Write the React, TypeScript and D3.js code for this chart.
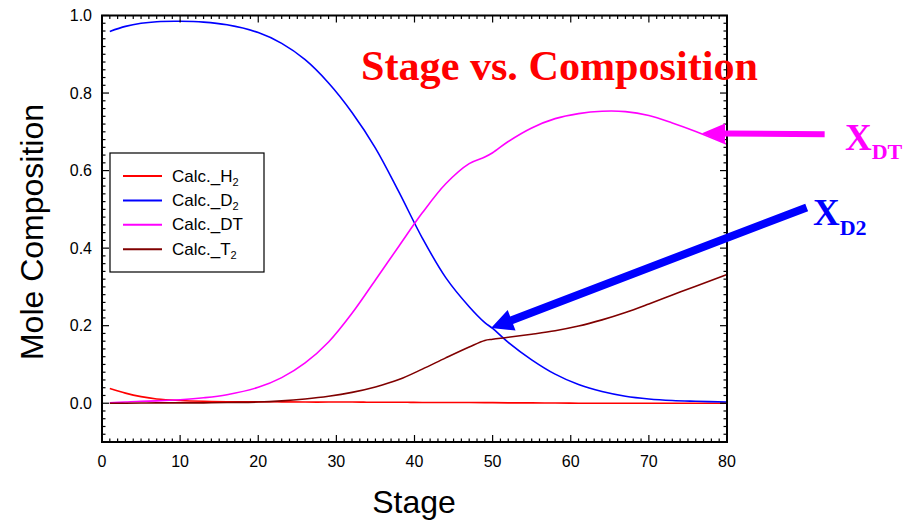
import * as d3 from "d3";

const stages = [1, 3, 5, 7, 10, 13, 16, 20, 23, 26, 29, 32, 35, 38, 41, 44, 47, 49, 50, 52, 55, 58, 61, 64, 67, 70, 73, 76, 80];

const h2 = [0.038, 0.026, 0.017, 0.011, 0.007, 0.005, 0.004, 0.004, 0.0035, 0.003, 0.003, 0.003, 0.0025, 0.0025, 0.002, 0.002, 0.002, 0.0015, 0.0015, 0.001, 0.001, 0.0005, 0, 0, 0, 0, 0, 0, 0];
const d2 = [0.959, 0.972, 0.98, 0.984, 0.985, 0.983, 0.976, 0.956, 0.928, 0.886, 0.826, 0.75, 0.658, 0.545, 0.426, 0.324, 0.249, 0.208, 0.193, 0.157, 0.112, 0.075, 0.048, 0.03, 0.018, 0.011, 0.007, 0.005, 0.003];
const dt = [0.001, 0.003, 0.005, 0.006, 0.009, 0.014, 0.022, 0.041, 0.066, 0.104, 0.158, 0.232, 0.318, 0.405, 0.491, 0.566, 0.618, 0.635, 0.646, 0.675, 0.71, 0.734, 0.747, 0.753, 0.752, 0.742, 0.723, 0.701, 0.668];
const t2 = [0, 0, 0.0005, 0.001, 0.001, 0.001, 0.002, 0.003, 0.006, 0.011, 0.018, 0.028, 0.042, 0.061, 0.088, 0.117, 0.145, 0.162, 0.165, 0.17, 0.178, 0.187, 0.199, 0.215, 0.234, 0.256, 0.279, 0.302, 0.332];

const seriesNames = ["H", "D", "DT", "T"];
const seriesSubs = ["2", "2", "", "2"];
const seriesColors = ["#ff0000", "#0000ff", "#ff00ff", "#800000"];
const seriesValues = [h2, d2, dt, t2];

const xTicks = [0, 10, 20, 30, 40, 50, 60, 70, 80];
const yTicks = [0, 0.2, 0.4, 0.6, 0.8, 1.0];

const W = 920;
const H = 521;
const sans = "'Liberation Sans', Arial, sans-serif";
const serif = "'Liberation Serif', 'Times New Roman', serif";

function arrowPath(x1: number, y1: number, x2: number, y2: number, w: number, hl: number, hw: number) {
  // tail (x1,y1) -> tip (x2,y2)
  const dx = x2 - x1, dy = y2 - y1;
  const len = Math.hypot(dx, dy);
  const ux = dx / len, uy = dy / len;
  const px = -uy, py = ux;
  const bx = x2 - ux * hl, by = y2 - uy * hl;
  const pts = [
    [x1 + px * w / 2, y1 + py * w / 2],
    [bx + px * w / 2, by + py * w / 2],
    [bx + px * hw, by + py * hw],
    [x2, y2],
    [bx - px * hw, by - py * hw],
    [bx - px * w / 2, by - py * w / 2],
    [x1 - px * w / 2, y1 - py * w / 2],
  ];
  return "M" + pts.map((p) => p.join(",")).join("L") + "Z";
}

export default function App() {
  const left = 102, right = 727, top = 15.5, bottom = 442;
  const x = d3.scaleLinear().domain([0, 80]).range([left, right]);
  const y = d3.scaleLinear().domain([-0.1, 1.0]).range([bottom, top]);

  const line = d3
    .line<[number, number]>()
    .x((d) => x(d[0]))
    .y((d) => y(d[1]))
    .curve(d3.curveCatmullRom.alpha(0.5));

  const xMinor = d3.range(0, 81, 1);
  const yMinor = d3.range(-0.1, 1.0001, 0.02);

  const magArrow = arrowPath(x(92.5), y(0.694), x(76.8), y(0.696), 6, 23, 10);
  const blueArrow = arrowPath(x(90.2), y(0.505), x(49.8), y(0.194), 8, 22, 11);

  return (
    <svg width={W} height={H} style={{ position: "absolute", left: 0, top: 0, background: "#fff" }}>
      {/* data lines */}
      {seriesValues.map((vals, i) => (
        <path
          key={i}
          d={line(stages.map((s, j) => [s, vals[j]] as [number, number])) || ""}
          fill="none"
          stroke={seriesColors[i]}
          strokeWidth={1.6}
        />
      ))}

      {/* frame */}
      <rect x={left} y={top} width={right - left} height={bottom - top} fill="none" stroke="#000" strokeWidth={2} />

      {/* x ticks */}
      {xMinor.map((t) => {
        const major = t % 10 === 0;
        const l = major ? 7 : 3.5;
        return (
          <g key={"x" + t} stroke="#000" strokeWidth={1.2}>
            <line x1={x(t)} x2={x(t)} y1={bottom} y2={bottom - l} />
            <line x1={x(t)} x2={x(t)} y1={top} y2={top + l} />
          </g>
        );
      })}
      {xTicks.map((t) => (
        <text key={"xl" + t} x={x(t)} y={bottom + 25} textAnchor="middle" fontFamily={sans} fontSize={16} fill="#000">
          {t}
        </text>
      ))}

      {/* y ticks */}
      {yMinor.map((t, i) => {
        const major = yTicks.some((m) => Math.abs(m - t) < 1e-6);
        const l = major ? 7 : 3.5;
        return (
          <g key={"y" + i} stroke="#000" strokeWidth={1.2}>
            <line x1={left} x2={left + l} y1={y(t)} y2={y(t)} />
            <line x1={right} x2={right - l} y1={y(t)} y2={y(t)} />
          </g>
        );
      })}
      {yTicks.map((t) => (
        <text key={"yl" + t} x={left - 10} y={y(t)} dy="0.36em" textAnchor="end" fontFamily={sans} fontSize={16} fill="#000">
          {t.toFixed(1)}
        </text>
      ))}

      {/* axis titles */}
      <text x={414} y={513} textAnchor="middle" fontFamily={sans} fontSize={32} fill="#000">
        Stage
      </text>
      <text transform="translate(43,232) rotate(-90)" textAnchor="middle" fontFamily={sans} fontSize={32} fill="#000">
        Mole Composition
      </text>

      {/* title */}
      <text x={361} y={80} fontFamily={serif} fontWeight="bold" fontSize={42} fill="#ff0000" textLength={397} lengthAdjust="spacingAndGlyphs">
        Stage vs. Composition
      </text>

      {/* legend */}
      <rect x={110} y={153} width={154} height={119} fill="#fff" stroke="#000" strokeWidth={1.2} />
      {seriesNames.map((n, i) => {
        const ly = 176 + i * 24.4;
        return (
          <g key={"lg" + i}>
            <line x1={123} x2={162} y1={ly} y2={ly} stroke={seriesColors[i]} strokeWidth={2} />
            <text x={172} y={ly + 5.5} fontFamily={sans} fontSize={17} fill="#000">
              {"Calc._" + n}
              {seriesSubs[i] && (
                <tspan fontSize={11} dy={4}>
                  {seriesSubs[i]}
                </tspan>
              )}
            </text>
          </g>
        );
      })}

      {/* annotations */}
      <path d={magArrow} fill="#ff00ff" />
      <path d={blueArrow} fill="#0000ff" />
      <text x={845} y={150} fontFamily={serif} fontWeight="bold" fontSize={37} fill="#ff00ff">
        X<tspan fontSize={22} dy={9}>DT</tspan>
      </text>
      <text x={813} y={225} fontFamily={serif} fontWeight="bold" fontSize={37} fill="#0000ff">
        X<tspan fontSize={22} dy={10}>D2</tspan>
      </text>
    </svg>
  );
}
